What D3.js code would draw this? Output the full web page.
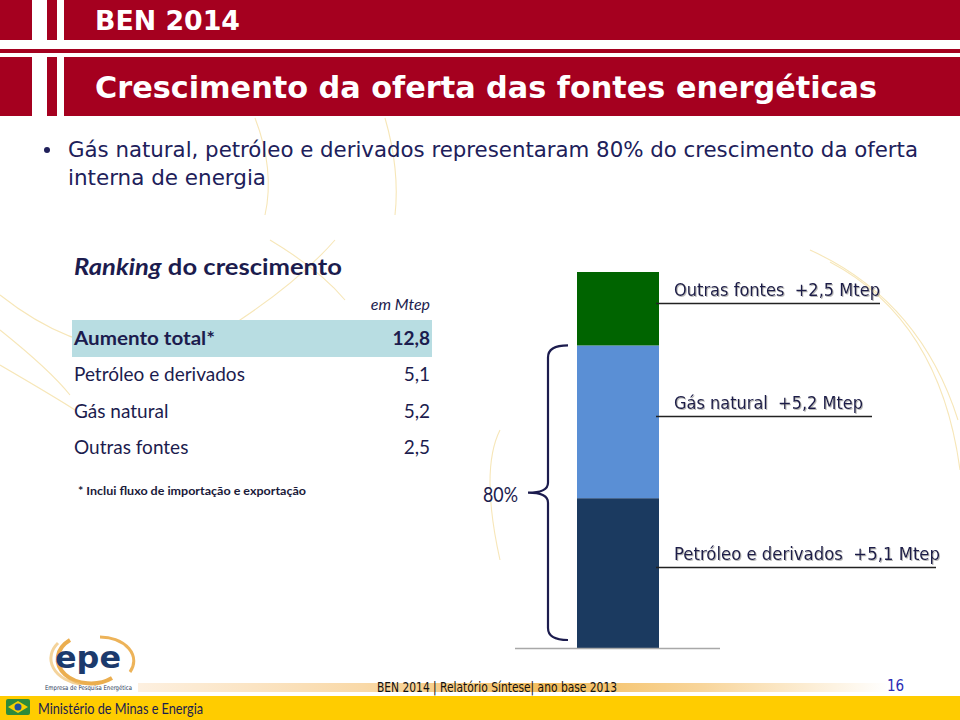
<!DOCTYPE html>
<html><head><meta charset="utf-8">
<script src="https://cdn.jsdelivr.net/npm/d3@7"></script>
<style>
html,body{margin:0;padding:0;background:#fff;}
svg{display:block;}
text{white-space:pre;}
</style></head>
<body>
<script>
// ---- data ----
const categories = ["Petróleo e derivados", "Gás natural", "Outras fontes"];
const values = [5.1, 5.2, 2.5];
const totalLabel = "Aumento total*";
const totalValue = 12.8;
const barLabels = ["Petróleo e derivados  +5,1 Mtep", "Gás natural  +5,2 Mtep", "Outras fontes  +2,5 Mtep"];
const tableRows = ["Petróleo e derivados", "Gás natural", "Outras fontes"];
const tableValues = ["5,1", "5,2", "2,5"];
const shareLabel = "80%";
const segColors = ["#1b3a60", "#5a8fd5", "#006400"];

const W = 960, H = 720;
const svg = d3.select("body").append("svg").attr("width", W).attr("height", H);
const defs = svg.append("defs");

const navy = "#1c1c4e";
const red = "#a5001f";
const tahoma = "'DejaVu Sans Condensed', 'DejaVu Sans', sans-serif";

function fitText(sel, len) { sel.attr("textLength", len).attr("lengthAdjust", "spacingAndGlyphs"); return sel; }

// ---- decorative faint arcs ----
const deco = svg.append("g").attr("fill", "none").attr("stroke", "#f3dc9a").attr("stroke-width", 1.1).attr("opacity", 0.7);
deco.append("path").attr("d", "M 255 118 Q 275 170 265 215");
deco.append("path").attr("d", "M 385 118 Q 400 170 395 215");
deco.append("path").attr("d", "M 0 295 Q 120 390 240 320 Q 300 280 335 240");
deco.append("path").attr("d", "M 0 365 Q 60 400 75 410");
deco.append("path").attr("d", "M 0 330 Q 50 370 70 395");
deco.append("path").attr("d", "M 270 240 Q 320 270 345 300");
deco.append("path").attr("d", "M 810 250 Q 920 300 958 420");
deco.append("path").attr("d", "M 830 262 Q 940 320 960 470");
deco.append("path").attr("d", "M 500 430 Q 480 470 500 560");

// ---- header ----
const hdr = svg.append("g");
hdr.append("rect").attr("x", 0).attr("y", 0).attr("width", W).attr("height", 40).attr("fill", red);
hdr.append("rect").attr("x", 0).attr("y", 49).attr("width", W).attr("height", 4).attr("fill", red);
hdr.append("rect").attr("x", 0).attr("y", 57).attr("width", W).attr("height", 59).attr("fill", red);
hdr.append("rect").attr("x", 32).attr("y", 0).attr("width", 15).attr("height", 49).attr("fill", "#fff");
hdr.append("rect").attr("x", 57).attr("y", 0).attr("width", 7).attr("height", 49).attr("fill", "#fff");
hdr.append("rect").attr("x", 32).attr("y", 53).attr("width", 15).attr("height", 63).attr("fill", "#fff");
hdr.append("rect").attr("x", 57).attr("y", 53).attr("width", 7).attr("height", 63).attr("fill", "#fff");

fitText(hdr.append("text").attr("x", 95).attr("y", 30).attr("fill", "#fff")
  .attr("font-family", tahoma).attr("font-weight", "bold").attr("font-size", 26)
  .text("BEN 2014"), 145);
fitText(hdr.append("text").attr("x", 95).attr("y", 98).attr("fill", "#fff")
  .attr("font-family", tahoma).attr("font-weight", "bold").attr("font-size", 31)
  .text("Crescimento da oferta das fontes energéticas"), 782);

// ---- bullet ----
const bl = svg.append("g").attr("fill", "#20205a").attr("font-family", tahoma).attr("font-size", 21);
bl.append("circle").attr("cx", 47).attr("cy", 150).attr("r", 3).attr("fill", "#20205a");
fitText(bl.append("text").attr("x", 68).attr("y", 157).text("Gás natural, petróleo e derivados representaram 80% do crescimento da oferta"), 850);
fitText(bl.append("text").attr("x", 68).attr("y", 185).text("interna de energia"), 198);

// ---- table ----
const tb = svg.append("g").attr("font-family", "Lato, 'Open Sans', sans-serif").attr("fill", navy);
const rk = tb.append("text").attr("x", 74).attr("y", 275).attr("font-size", 23).attr("font-weight", "bold");
rk.append("tspan").attr("font-style", "italic").text("Ranking");
rk.append("tspan").text(" do crescimento");
fitText(rk, 268);
tb.append("text").attr("x", 430).attr("y", 310).attr("text-anchor", "end").attr("font-size", 16).attr("font-style", "italic").text("em Mtep");
tb.append("rect").attr("x", 72).attr("y", 320).attr("width", 360).attr("height", 37).attr("fill", "#b8dde2");
fitText(tb.append("text").attr("x", 74).attr("y", 345).attr("font-size", 19).attr("font-weight", "bold").text(totalLabel), 141);
tb.append("text").attr("x", 430).attr("y", 345).attr("text-anchor", "end").attr("font-size", 19).attr("font-weight", "bold")
  .text(d3.format(".1f")(totalValue).replace(".", ","));
const rowY = d3.scalePoint().domain(tableRows).range([381, 454]);
tableRows.forEach((r, i) => {
  tb.append("text").attr("x", 74).attr("y", rowY(r)).attr("font-size", 19).text(r);
  tb.append("text").attr("x", 430).attr("y", rowY(r)).attr("text-anchor", "end").attr("font-size", 19).text(tableValues[i]);
});
fitText(tb.append("text").attr("x", 78).attr("y", 495).attr("font-size", 11).attr("font-weight", "bold").attr("fill", "#1a1a3a")
  .text("* Inclui fluxo de importação e exportação"), 228);

// ---- stacked bar ----
const total = d3.sum(values);
const y = d3.scaleLinear().domain([0, total]).range([648, 272]);
const x = d3.scaleBand().domain(["oferta"]).range([577, 659]).padding(0);
const stackData = [Object.fromEntries(categories.map((c, i) => [c, values[i]]))];
const series = d3.stack().keys(categories)(stackData);

const chart = svg.append("g");
chart.selectAll("rect.seg").data(series).enter().append("rect")
  .attr("class", "seg")
  .attr("x", x("oferta")).attr("width", x.bandwidth())
  .attr("y", d => y(d[0][1])).attr("height", d => y(d[0][0]) - y(d[0][1]))
  .attr("fill", (d, i) => segColors[i]);

// baseline
chart.append("line").attr("x1", 515).attr("x2", 720).attr("y1", y(0) + 0.5).attr("y2", y(0) + 0.5)
  .attr("stroke", "#a8a8a8").attr("stroke-width", 1.5);

// labels
const sh = defs.append("filter").attr("id", "sh").attr("x", "-5%").attr("y", "-20%").attr("width", "110%").attr("height", "140%");
sh.append("feDropShadow").attr("dx", 1).attr("dy", 1).attr("stdDeviation", 0.6).attr("flood-color", "#888").attr("flood-opacity", 0.6);
const labelEnds = [936, 872, 880];
const labelW = [266, 189, 206];
series.forEach((s, i) => {
  const mid = (y(s[0][0]) + y(s[0][1])) / 2;
  const uy = Math.round(mid - 6) + 0.5;
  chart.append("line").attr("x1", 656).attr("x2", labelEnds[i]).attr("y1", uy).attr("y2", uy)
    .attr("stroke", "#222").attr("stroke-width", 1.5);
  fitText(chart.append("text").attr("x", 674).attr("y", uy - 8).attr("font-family", tahoma)
    .attr("font-size", 18).attr("fill", "#1c1c48").attr("filter", "url(#sh)").text(barLabels[i]), labelW[i]);
});

// bracket
const bTop = y(values[0] + values[1]);
const bBot = y(0) - 8;
const bMid = (bTop + bBot) / 2;
const bx = 548, bxr = 568, tipX = 528;
const bp = d3.path();
bp.moveTo(bxr, bTop);
bp.quadraticCurveTo(bx, bTop, bx, bTop + 12);
bp.lineTo(bx, bMid - 10);
bp.quadraticCurveTo(bx, bMid, tipX, bMid);
bp.quadraticCurveTo(bx, bMid, bx, bMid + 10);
bp.lineTo(bx, bBot - 12);
bp.quadraticCurveTo(bx, bBot, bxr, bBot);
chart.append("path").attr("d", bp.toString()).attr("fill", "none").attr("stroke", "#1c1c4e").attr("stroke-width", 2.2);
fitText(chart.append("text").attr("x", 483).attr("y", bMid + 9)
  .attr("font-family", "Lato, 'Open Sans', sans-serif").attr("font-size", 22).attr("fill", navy).text(shareLabel), 35);

// ---- footer ----
const grad = defs.append("linearGradient").attr("id", "fg").attr("x1", 0).attr("x2", 1).attr("y1", 0).attr("y2", 0);
grad.append("stop").attr("offset", "0%").attr("stop-color", "#fdf0e0");
grad.append("stop").attr("offset", "30%").attr("stop-color", "#f9d9a8");
grad.append("stop").attr("offset", "55%").attr("stop-color", "#f4bd5c");
grad.append("stop").attr("offset", "75%").attr("stop-color", "#f8d59a");
grad.append("stop").attr("offset", "100%").attr("stop-color", "#ffffff");
svg.append("rect").attr("x", 138).attr("y", 683).attr("width", 750).attr("height", 9).attr("fill", "url(#fg)");
svg.append("rect").attr("x", 0).attr("y", 696).attr("width", W).attr("height", 24).attr("fill", "#ffcc00");
fitText(svg.append("text").attr("x", 377).attr("y", 692).attr("font-family", tahoma).attr("font-size", 14)
  .attr("fill", "#111").text("BEN 2014 | Relatório Síntese| ano base 2013"), 240);
svg.append("text").attr("x", 887).attr("y", 691).attr("font-family", tahoma).attr("font-size", 15)
  .attr("fill", "#2a2ab4").text("16");
fitText(svg.append("text").attr("x", 38).attr("y", 714).attr("font-family", "Lato, 'Open Sans', sans-serif").attr("font-size", 16)
  .attr("fill", "#1a2050").text("Ministério de Minas e Energia"), 165);

// flag icon
const fl = svg.append("g");
fl.append("rect").attr("x", 6).attr("y", 699).attr("width", 24).attr("height", 16).attr("fill", "#2e8b3a").attr("rx", 2);
fl.append("path").attr("d", "M 18 701 L 28 707 L 18 713 L 8 707 Z").attr("fill", "#f5d000");
fl.append("circle").attr("cx", 18).attr("cy", 707).attr("r", 3.5).attr("fill", "#2050a0");

// epe logo
const lg = svg.append("g");
lg.append("path").attr("d", "M 70 640 A 30 22 0 1 0 112 678").attr("fill", "none").attr("stroke", "#e8a030").attr("stroke-width", 4).attr("opacity", 0.85);
lg.append("path").attr("d", "M 58 643 A 36 26 0 0 0 80 684").attr("fill", "none").attr("stroke", "#f0c070").attr("stroke-width", 3).attr("opacity", 0.7);
lg.append("path").attr("d", "M 100 637 A 34 24 0 0 1 130 672").attr("fill", "none").attr("stroke", "#e8a030").attr("stroke-width", 3).attr("opacity", 0.8);
lg.append("text").attr("x", 88).attr("y", 668).attr("text-anchor", "middle").attr("font-family", "DejaVu Sans, sans-serif")
  .attr("font-size", 30).attr("font-weight", "bold").attr("fill", "#1c3a6c").attr("textLength", 66).attr("lengthAdjust", "spacingAndGlyphs").text("epe");
fitText(lg.append("text").attr("x", 45).attr("y", 690).attr("font-family", "DejaVu Sans, sans-serif").attr("font-size", 6.5)
  .attr("fill", "#2a3a5a").text("Empresa de Pesquisa Energética"), 87);
</script>
</body></html>
